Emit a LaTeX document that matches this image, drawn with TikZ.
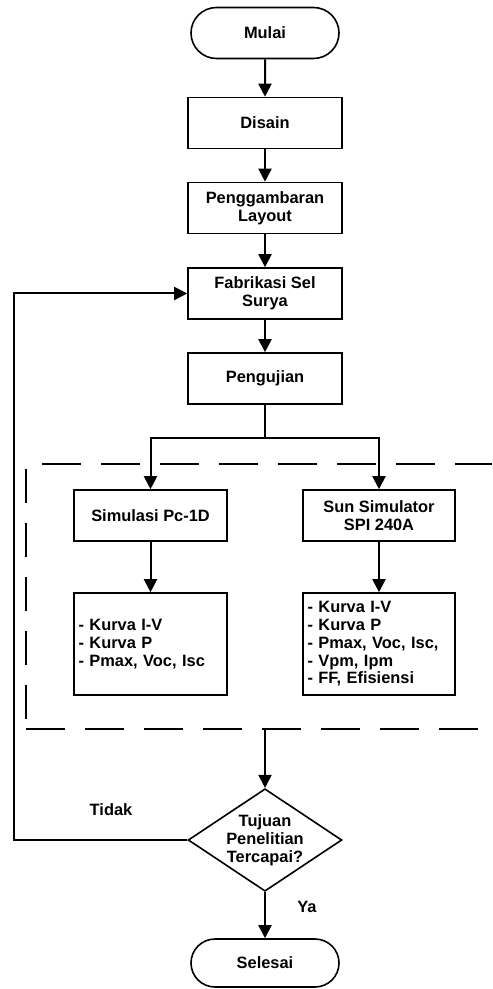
\documentclass[tikz,border=0pt]{standalone}
\usepackage{fontspec}
\setmainfont{Liberation Sans}
\usetikzlibrary{shapes}
\usetikzlibrary{positioning}
\usetikzlibrary{arrows.meta}
\tikzset{
    mynodet/.style = {rounded rectangle, line width=0.8pt, draw=black, align=center, minimum width=76pt, minimum height=25.5pt, inner sep=1pt},
    mynode/.style = {rectangle, line width=0.8pt, draw=black, align=center, minimum width=77pt, minimum height=25.5pt, inner sep=1pt},
    mynodel/.style = {rectangle, line width=0.8pt, draw=black, align=left, text width=72pt, inner xsep=2.25pt, minimum height=51pt},
    mynoded/.style = {diamond, line width=0.8pt, draw=black, align=center, shape aspect=1.5, inner sep=0pt, minimum width=75pt, minimum height=49.5pt},
    mylabel/.style = {inner sep=0pt},
    edgen/.style = {-{Triangle[length=6.5pt,width=6.5pt]}, line width=1pt, black},
    edgel/.style = {-, line width=1pt, black},
    edgegd/.style = {-, line width=0.75pt, black, dash pattern=on 19.5pt off 10pt}, % box
    edgevd/.style = {-, line width=0.75pt, black, dash pattern=on 17pt off 10pt} % box side
}

\begin{document}
\begin{tikzpicture}[x=0.5pt, y=-0.5pt, font=\fontsize{8.2}{8.9}\selectfont\bfseries]
  \useasboundingbox (0,0) rectangle (492,989);

  % main chain
  \node[mynodet] (mulai) at (265,33) {Mulai};
  \node[mynode] (disain) at (265,123) {Disain};
  \node[mynode] (layout) at (265,208) {Penggambaran\\Layout};
  \node[mynode] (fabrikasi) at (265,293.5) {Fabrikasi Sel\\Surya};
  \node[mynode] (pengujian) at (265,378.5) {Pengujian};

  % two branches
  \node[mynode, minimum width=76.5pt] (simulasi) at (150.5,515.5) {Simulasi Pc-1D};
  \node[mynode, minimum width=76pt] (sun) at (379,515.5) {Sun Simulator\\SPI 240A};
  \node[mynodel] (hasila) at (150.5,644) {- Kurva I-V\\- Kurva P\\- Pmax, Voc, Isc};
  \node[mynodel, text width=71.5pt] (hasilb) at (379,644) {- Kurva I-V\\- Kurva P\\- Pmax, Voc, Isc,\\- Vpm, Ipm\\- FF, Efisiensi};

  % decision
  \node[mynoded] (tujuan) at (265,840) {Tujuan\\Penelitian\\Tercapai?};
  \node[mynodet, minimum height=24pt] (selesai) at (265,963) {Selesai};
  \node[mylabel] (tidak) at (111,810) {Tidak};
  \node[mylabel] (ya) at (307,907) {Ya};

  % dashed box
  \draw[edgegd] (42,464) -- (492,464);
  \draw[edgevd] (26,469) -- (26,719);
  \draw[edgegd] (26,729) -- (492,729);

  \coordinate (cabang) at (265,438);
  \coordinate (keluar) at (265,729);
  \coordinate (kiri) at (14,840);

  \draw[edgen] (mulai) -- (disain);
  \draw[edgen] (disain) -- (layout);
  \draw[edgen] (layout) -- (fabrikasi);
  \draw[edgen] (fabrikasi) -- (pengujian);
  \draw[edgel] (pengujian) -- (cabang);
  \draw[edgen] (cabang) -| (simulasi.north);
  \draw[edgen] (cabang) -| (sun.north);
  \draw[edgen] (simulasi) -- (hasila);
  \draw[edgen] (sun) -- (hasilb);
  \draw[edgen] (keluar) -- (tujuan.north);
  \draw[edgen] (tujuan.west) -- (kiri) |- (fabrikasi.west);
  \draw[edgen] (tujuan.south) -- (selesai.north);

\end{tikzpicture}
\end{document}
